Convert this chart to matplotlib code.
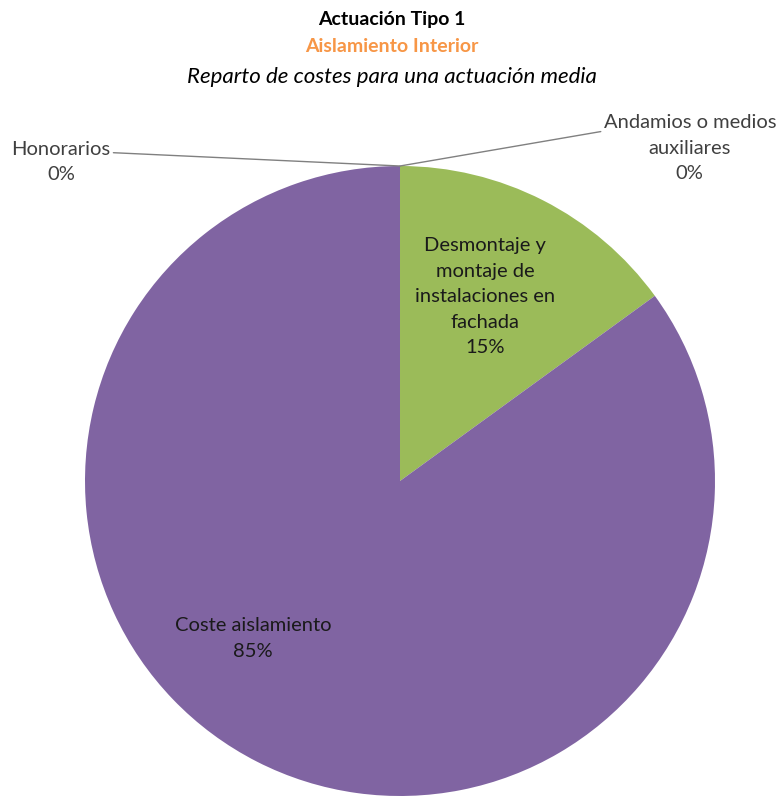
import numpy as np
import matplotlib.pyplot as plt

plt.rcParams['font.family'] = ['Lato', 'DejaVu Sans']

# Datos
categorias = ['Andamios o medios\nauxiliares', 'Desmontaje y\nmontaje de\ninstalaciones en\nfachada',
              'Coste aislamiento', 'Honorarios']
valores = [0, 15, 85, 0]
colores = ['#4F81BD', '#9BBB59', '#8064A2', '#C0504D']

W, H = 783, 796
fig = plt.figure(figsize=(W / 100, H / 100), dpi=100)

# ejes del pastel: centro (400, 481) px, radio 315 px
cx, cy, r = 400, 481, 315
ax = fig.add_axes([(cx - r) / W, (H - cy - r) / H, 2 * r / W, 2 * r / H])
wedges, _ = ax.pie(valores, colors=colores, startangle=90, counterclock=False,
                   radius=1, wedgeprops=dict(linewidth=0))
ax.set_xlim(-1, 1)
ax.set_ylim(-1, 1)
ax.set_aspect('equal')
ax.axis('off')

# títulos
fig.text(0.5, 1 - 20 / H, 'Actuación Tipo 1', ha='center', va='center',
         fontsize=14, fontweight='bold', color='#000000')
fig.text(0.5, 1 - 47 / H, 'Aislamiento Interior', ha='center', va='center',
         fontsize=14, fontweight='bold', color='#F79646')
fig.text(0.5, 1 - 77 / H, 'Reparto de costes para una actuación media', ha='center',
         va='center', fontsize=16, style='italic', color='#000000')

# etiquetas interiores
ax.text(0.27, 0.585, f'{categorias[1]}\n{valores[1]}%', ha='center', va='center',
        fontsize=14.5, color='#1a1a1a', linespacing=1.6)
ax.text(-0.467, -0.5, f'{categorias[2]}\n{valores[2]}%', ha='center', va='center',
        fontsize=14.5, color='#1a1a1a', linespacing=1.6)

# etiquetas exteriores (0%) con líneas guía hacia el borde superior del pastel
w = wedges[0]
ang = np.deg2rad(w.theta1)
top = (np.cos(ang), np.sin(ang))
ax.annotate(f'{categorias[3]}\n{valores[3]}%', xy=top, xytext=(-1.076, 1.013),
            ha='center', va='center', fontsize=14.5, color='#404040', linespacing=1.6,
            arrowprops=dict(arrowstyle='-', color='#808080', lw=1,
                            shrinkA=0, shrinkB=0, relpos=(1.0, 0.72)),
            annotation_clip=False)
ax.annotate(f'{categorias[0]}\n{valores[0]}%', xy=top, xytext=(0.92, 1.057),
            ha='center', va='center', fontsize=14.5, color='#404040', linespacing=1.6,
            arrowprops=dict(arrowstyle='-', color='#808080', lw=1,
                            shrinkA=0, shrinkB=0, relpos=(0.0, 0.75)),
            annotation_clip=False)

fig.savefig('out.png', dpi=100)
